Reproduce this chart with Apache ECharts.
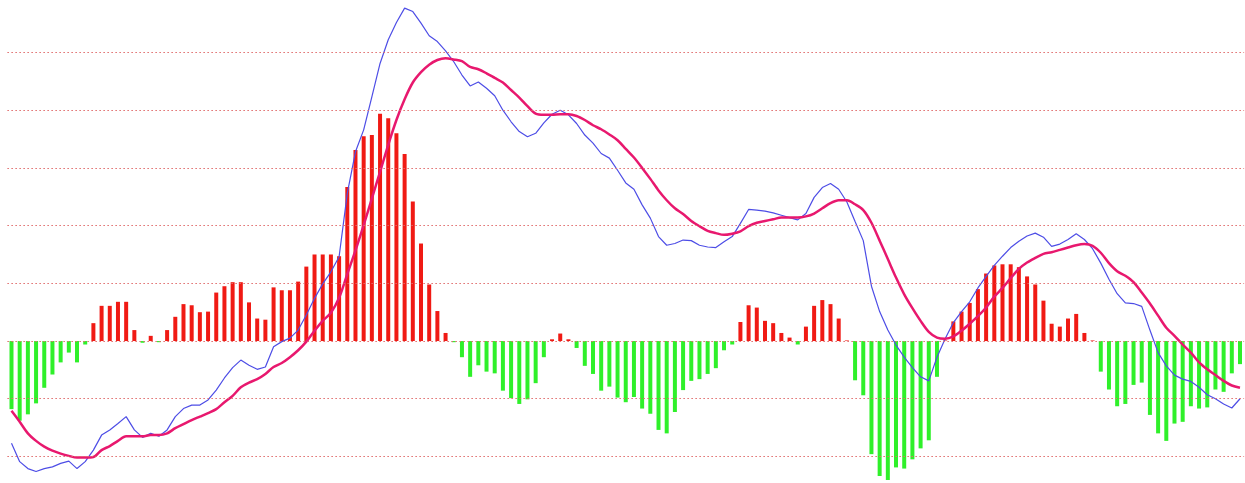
<!DOCTYPE html>
<html>
<head>
<meta charset="utf-8">
<script src="https://cdn.jsdelivr.net/npm/echarts@6/dist/echarts.min.js"></script>
<style>
html,body{margin:0;padding:0;background:#ffffff;}
#chart{width:1245px;height:483px;}
</style>
</head>
<body>
<div id="chart"></div>
<script>
// MACD histogram (bars)
var macd = [
-1.18,-1.38,-1.27,-1.08,-0.81,-0.58,-0.37,-0.20,-0.37,-0.06,
0.31,0.61,0.61,0.68,0.68,0.19,-0.03,0.09,-0.02,0.19,
0.42,0.64,0.62,0.50,0.51,0.84,0.95,1.02,1.02,0.67,
0.39,0.37,0.93,0.88,0.88,1.03,1.29,1.50,1.50,1.50,
1.47,2.67,3.31,3.55,3.57,3.94,3.86,3.60,3.24,2.42,
1.69,0.98,0.52,0.14,-0.02,-0.28,-0.62,-0.42,-0.53,-0.56,
-0.86,-0.99,-1.09,-1.01,-0.73,-0.28,0.03,0.13,0.03,-0.12,
-0.43,-0.57,-0.86,-0.79,-0.98,-1.06,-0.97,-1.17,-1.26,-1.54,
-1.60,-1.23,-0.85,-0.69,-0.66,-0.57,-0.47,-0.16,-0.06,0.33,
0.62,0.58,0.35,0.31,0.14,0.06,-0.06,0.25,0.61,0.71,
0.64,0.39,0.01,-0.68,-0.94,-1.96,-2.34,-2.41,-2.19,-2.21,
-2.05,-1.86,-1.72,-0.62,0.01,0.34,0.51,0.66,0.90,1.17,
1.31,1.33,1.33,1.28,1.12,0.98,0.70,0.30,0.25,0.39,
0.47,0.14,0.01,-0.53,-0.84,-1.13,-1.09,-0.76,-0.72,-1.28,
-1.60,-1.73,-1.43,-1.40,-1.13,-1.17,-1.15,-0.84,-0.88,-0.56,
-0.40
];
// DIF line (blue)
var dif = [
-1.77,-2.09,-2.21,-2.26,-2.21,-2.18,-2.12,-2.08,-2.21,-2.09,
-1.89,-1.63,-1.54,-1.43,-1.31,-1.54,-1.67,-1.60,-1.65,-1.54,
-1.31,-1.17,-1.11,-1.11,-1.02,-0.85,-0.64,-0.46,-0.33,-0.42,
-0.49,-0.45,-0.10,-0.01,0.05,0.19,0.45,0.74,0.99,1.20,
1.46,2.56,3.28,3.66,4.23,4.81,5.22,5.52,5.77,5.71,
5.51,5.29,5.19,5.03,4.84,4.61,4.42,4.49,4.38,4.25,
4.00,3.80,3.63,3.54,3.60,3.78,3.93,4.00,3.92,3.77,
3.57,3.43,3.25,3.17,2.96,2.74,2.63,2.36,2.13,1.81,
1.66,1.69,1.75,1.74,1.66,1.63,1.62,1.72,1.81,2.04,
2.28,2.27,2.25,2.22,2.18,2.14,2.10,2.21,2.49,2.66,
2.73,2.63,2.41,2.07,1.74,0.95,0.51,0.19,-0.07,-0.28,
-0.46,-0.62,-0.69,-0.28,0.04,0.32,0.51,0.68,0.92,1.12,
1.31,1.47,1.62,1.73,1.82,1.87,1.80,1.64,1.68,1.76,
1.86,1.76,1.60,1.35,1.07,0.82,0.66,0.65,0.60,0.19,
-0.20,-0.43,-0.59,-0.66,-0.70,-0.80,-0.93,-1.00,-1.09,-1.16,
-1.00
];
// DEA line (magenta)
var dea = [
-1.21,-1.40,-1.60,-1.73,-1.83,-1.90,-1.95,-1.99,-2.02,-2.02,
-2.01,-1.89,-1.82,-1.73,-1.65,-1.65,-1.65,-1.63,-1.63,-1.60,
-1.51,-1.44,-1.37,-1.31,-1.25,-1.18,-1.06,-0.95,-0.80,-0.72,
-0.66,-0.57,-0.45,-0.38,-0.28,-0.16,-0.01,0.18,0.35,0.49,
0.75,1.16,1.57,2.01,2.47,2.93,3.40,3.83,4.19,4.48,
4.66,4.79,4.87,4.90,4.88,4.85,4.75,4.71,4.64,4.56,
4.48,4.35,4.22,4.07,3.94,3.92,3.92,3.93,3.93,3.90,
3.83,3.74,3.67,3.58,3.48,3.33,3.18,3.00,2.81,2.61,
2.44,2.30,2.20,2.08,1.99,1.91,1.87,1.84,1.86,1.90,
1.99,2.05,2.08,2.11,2.14,2.14,2.14,2.16,2.21,2.30,
2.39,2.44,2.44,2.37,2.27,2.05,1.74,1.42,1.10,0.81,
0.57,0.35,0.16,0.06,0.04,0.08,0.18,0.30,0.43,0.58,
0.77,0.92,1.09,1.25,1.36,1.44,1.51,1.54,1.58,1.62,
1.66,1.68,1.65,1.53,1.35,1.21,1.13,1.02,0.84,0.65,
0.44,0.23,0.09,-0.06,-0.20,-0.37,-0.49,-0.59,-0.69,-0.77,
-0.81
];
// levels of the dotted horizontal grid lines
var gridLevels = [-2, -1, 0, 1, 2, 3, 4, 5];
// visible value range of the panel
var yMin = -2.46;
var yMax = 5.91;

var categories = macd.map(function (v, i) { return String(i + 1); });

var chart = echarts.init(document.getElementById('chart'), null, {renderer: 'canvas'});
chart.setOption({
  backgroundColor: '#ffffff',
  animation: false,
  grid: {left: 7.4, right: 0.9, top: 0, bottom: 0, containLabel: false},
  xAxis: {
    type: 'category',
    data: categories,
    boundaryGap: true,
    axisLine: {show: false},
    axisTick: {show: false},
    axisLabel: {show: false},
    splitLine: {show: false}
  },
  yAxis: {
    type: 'value',
    min: yMin,
    max: yMax,
    axisLine: {show: false},
    axisTick: {show: false},
    axisLabel: {show: false},
    splitLine: {show: false}
  },
  series: [
    {
      type: 'bar',
      data: macd,
      barWidth: 4,
      itemStyle: {
        color: function (p) { return p.value >= 0 ? '#f01a14' : '#2ff02a'; }
      },
      markLine: {
        silent: true,
        symbol: ['none', 'none'],
        label: {show: false},
        animation: false,
        lineStyle: {color: '#e06a6a', type: [1.5, 2.5], width: 1},
        emphasis: {disabled: true},
        data: gridLevels.map(function (v) { return {yAxis: v}; })
      },
      z: 2
    },
    {
      type: 'line',
      data: dif,
      symbol: 'none',
      smooth: false,
      lineStyle: {color: '#4d4de6', width: 1.2},
      z: 3
    },
    {
      type: 'line',
      data: dea,
      symbol: 'none',
      smooth: 0.3,
      lineStyle: {color: '#e8186e', width: 2.5},
      z: 4
    }
  ]
});
</script>
</body>
</html>
